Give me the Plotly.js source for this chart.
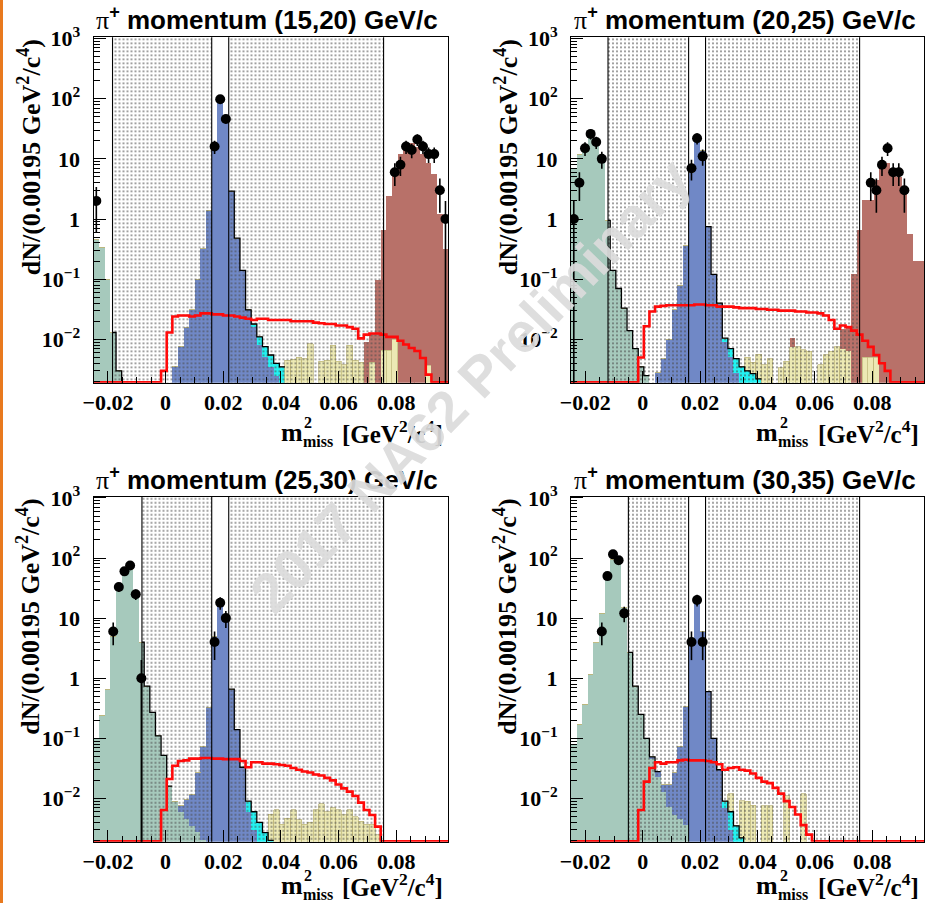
<!DOCTYPE html>
<html><head><meta charset="utf-8">
<script src="https://cdn.plot.ly/plotly-3.0.1.min.js"></script>
<style>html,body{margin:0;padding:0;background:#fff;}#plot{width:925px;height:903px;}</style>
</head><body><div id="plot"></div>
<script>
// ---------------- data ----------------
// histogram binning: 0.00195 GeV^2 bins starting at -0.025
const BIN_LO = -0.025, BIN_W = 0.125/64, NBINS = 63;
// each series: [index of first bin, values...]
const P1_GREEN  = [0, [0.45,0.34,0.10,0.013,0.003]];
const P1_BLUE   = [14,[0.0035,0.0075,0.016,0.031,0.10,0.32,1.4,16,85,50,2.9,0.48,0.14,0.031,0.016,0.008,0.005,0.0035,0.0025,0.0012]];
const P1_CYAN   = [28,[0.002,0.003,0.0026,0.002,0.0015,0.0023]];
const P1_YELLOW = [34,[0.0045,0.0047,0.005,0.0048,0.0085,0,0.0043,0.0045,0.008,0.0043,0.0038,0.008,0.0045,0.0042,0,0.0042,0,0.0066,0.0066,0.01,0,0,0,0,0,0.0037]];
const P1_BROWN  = [48,[0.009,0.008,0.097,0.65,2.4,6.5,12,16,18,16,12,8.4,5.5,1.2,0.32]];
const P1_RED    = [12,[0.003,0.013,0.024,0.025,0.025,0.024,0.025,0.027,0.027,0.026,0.026,0.025,0.025,0.024,0.023,0.022,0.021,0.022,0.022,0.021,0.021,0.021,0.021,0.020,0.020,0.020,0.020,0.019,0.0185,0.018,0.018,0.017,0.017,0.016,0.015,0.0104,0.012,0.0125,0.0125,0.012,0.011,0.011,0.0095,0.0082,0.0072,0.0064,0.0049,0.0026]];
const P1_DATA_BINS   = [0,21,22,23,53,54,55,56,57,58,59,60,61,62];
const P1_DATA_COUNTS = [2,16,98,46,6,8,16,14,21,16,12,12,3,1];

const P2_GREEN  = [0, [7,12,17,26,22,10,0.95,0.14,0.07,0.033,0.014,0.007,0.0035,0.0025]];
const P2_BLUE   = [15,[0.0028,0.0048,0.01,0.031,0.08,0.36,6,20,14,0.75,0.12,0.04,0.009,0.005,0.0028,0.0015,0.001,0.0005]];
const P2_CYAN   = [27,[0.0015,0.002,0.002,0.002,0.002,0.0022,0.0022]];
const P2_YELLOW = [31,[0.002,0.0015,0.0035,0.0038,0.0048,0,0.0034,0.0043,0.0075,0.0075,0.0067,0.0063,0,0.0038,0.0056,0.0063,0.0075,0.007,0.0065,0,0,0.005,0.005,0.005]];
const P2_BROWN  = [39,[0.003,0,0,0,0,0,0,0,0,0.008,0.009,0.12,0.65,2.1,2.1,4.5,7.9,8.4,7,5,2.8,0.57,0.2,0.2]];
const P2_RED    = [12,[0.005,0.0165,0.029,0.035,0.036,0.037,0.037,0.037,0.037,0.037,0.038,0.038,0.037,0.037,0.035,0.035,0.035,0.034,0.033,0.033,0.033,0.032,0.032,0.031,0.031,0.030,0.030,0.030,0.029,0.029,0.028,0.028,0.027,0.025,0.021,0.015,0.017,0.016,0.014,0.012,0.0095,0.0075,0.0055,0.004,0.003]];
const P2_DATA_BINS   = [0,1,2,3,4,5,21,22,23,53,54,55,56,57,58,59];
const P2_DATA_COUNTS = [1,4,15,26,19,10,7,22,11,4,3,8,15,6,6,3];

const P3_GREEN  = [0, [0.1,0.24,0.65,5,30,60,65,25,4,0.74,0.27,0.11,0.052,0.016,0.009,0.006,0.0045,0.0035,0.0028,0.002]];
const P3_BLUE   = [15,[0.0015,0.005,0.008,0.024,0.07,0.33,5,17,9,0.66,0.14,0.033,0.006,0.003,0.0015,0.0005]];
const P3_CYAN   = [27,[0.003,0.003,0.0025,0.0022,0.002]];
const P3_YELLOW = [31,[0.0035,0.0065,0.0037,0.0047,0.0065,0.0044,0.0037,0.004,0.0065,0.0082,0.006,0.007,0.0065,0.0054,0.0065,0.005,0.0042,0.0037,0.0037,0.0025]];
const P3_BROWN  = [0, []];
const P3_RED    = [12,[0.0064,0.021,0.035,0.042,0.043,0.046,0.046,0.047,0.047,0.046,0.046,0.045,0.045,0.045,0.042,0.033,0.04,0.04,0.038,0.038,0.037,0.036,0.035,0.032,0.03,0.028,0.027,0.025,0.024,0.022,0.02,0.017,0.0147,0.013,0.011,0.0085,0.0064,0.0053,0.0034]];
const P3_DATA_BINS   = [3,4,5,6,7,8,21,22,23];
const P3_DATA_COUNTS = [6,33,60,75,25,1,4,18,10];

const P4_GREEN  = [0, [0.08,0.17,0.37,1.16,3.9,12,45,95,85,15,2.7,0.74,0.25,0.1,0.046,0.023,0.013,0.0073,0.0053,0.0045,0.0036]];
const P4_BLUE   = [14,[0.003,0.005,0.004,0.01,0.022,0.07,0.33,4.5,18,6,0.6,0.1,0.03,0.007,0.003,0.0015]];
const P4_CYAN   = [27,[0.002,0.003,0.002,0.0022]];
const P4_YELLOW = [28,[0.006,0,0.007,0.009,0.0077,0,0.0076,0.0076,0,0,0.011,0,0,0.012]];
const P4_BROWN  = [0, []];
const P4_RED    = [12,[0.0064,0.019,0.032,0.04,0.038,0.04,0.04,0.043,0.044,0.043,0.043,0.043,0.042,0.04,0.037,0.03,0.032,0.033,0.03,0.029,0.026,0.022,0.019,0.018,0.015,0.012,0.009,0.0072,0.0054,0.0036,0.0025]];
const P4_DATA_BINS   = [5,6,7,8,9,21,22,23];
const P4_DATA_COUNTS = [6,50,115,92,12,4,20,4];

// cut lines (m2_miss values) and the outlined (control-region) stretches
const P1_CUTS = [-0.0184, 0.0160, 0.0219, 0.0756];
const P2_CUTS = [-0.0121, 0.0160, 0.0219, 0.0756];
const P3_CUTS = [-0.0082, 0.0160, 0.0219, 0.0756];
const P4_CUTS = [-0.0050, 0.0160, 0.0219, 0.0756];
const P1_OUTLINE = [[-0.0184,-0.0152],[0.0219,0.0414]];
const P2_OUTLINE = [[-0.0121,0.0023],[0.0219,0.0414]];
const P3_OUTLINE = [[-0.0082,0.0023],[0.0219,0.0375]];
const P4_OUTLINE = [[-0.0050,0.0062],[0.0219,0.0355]];

const TITLES = ['(15,20)','(20,25)','(25,30)','(30,35)'];
const X_TICKS = [-0.02,0,0.02,0.04,0.06,0.08];
const X_TICKTEXT = ['\u22120.02','0','0.02','0.04','0.06','0.08'];
const Y_TICKS = [0.01,0.1,1,10,100,1000];
const Y_TICKTEXT = ['10<sup>\u22122</sup>','10<sup>\u22121</sup>','1','10','10<sup>2</sup>','10<sup>3</sup>'];

// ---------------- layout geometry & style ----------------
const W = 925, H = 903;
const COLS = [[93.5,448.3],[571,924]];
const ROWS = [[37.3,382.7],[496.7,841.7]];
const YMIN = -2.72, YMAX = 3.02;
const YLO = Math.pow(10,YMIN), YHI = Math.pow(10,YMAX);
const FLOOR = Math.pow(10,YMIN+0.006);
const C = {green:'#a6c9bc', blue:'#7088c6', cyan:'#22f2f2', yellow:'#ece9b4', brown:'#b87169', red:'#ff0a0a'};
const SERIF = 'Liberation Serif', SANS = 'Liberation Sans';

const panels = [
 {green:P1_GREEN,blue:P1_BLUE,cyan:P1_CYAN,yellow:P1_YELLOW,brown:P1_BROWN,red:P1_RED,db:P1_DATA_BINS,dc:P1_DATA_COUNTS,cuts:P1_CUTS,outline:P1_OUTLINE,col:0,row:0},
 {green:P2_GREEN,blue:P2_BLUE,cyan:P2_CYAN,yellow:P2_YELLOW,brown:P2_BROWN,red:P2_RED,db:P2_DATA_BINS,dc:P2_DATA_COUNTS,cuts:P2_CUTS,outline:P2_OUTLINE,col:1,row:0},
 {green:P3_GREEN,blue:P3_BLUE,cyan:P3_CYAN,yellow:P3_YELLOW,brown:P3_BROWN,red:P3_RED,db:P3_DATA_BINS,dc:P3_DATA_COUNTS,cuts:P3_CUTS,outline:P3_OUTLINE,col:0,row:1},
 {green:P4_GREEN,blue:P4_BLUE,cyan:P4_CYAN,yellow:P4_YELLOW,brown:P4_BROWN,red:P4_RED,db:P4_DATA_BINS,dc:P4_DATA_COUNTS,cuts:P4_CUTS,outline:P4_OUTLINE,col:1,row:1}
];

function expand(spec){ const a = new Array(NBINS).fill(0); spec[1].forEach((v,i)=>{ a[spec[0]+i] = v; }); return a; }
const edges = Array.from({length:NBINS+1},(_,k)=>BIN_LO+k*BIN_W);
const centers = Array.from({length:NBINS},(_,k)=>BIN_LO+(k+0.5)*BIN_W);
const px2x = p => p/W, px2y = p => 1-p/H;

const traces = [], shapes = [], annotations = [], layout = {};
const minorY = [];
for(let d=-3; d<=2; d++) for(let m=2; m<=9; m++){ const v=m*Math.pow(10,d); if(v>YLO && v<YHI) minorY.push(v); }

function tw(t,s){ const c=tw.ctx||(tw.ctx=document.createElement('canvas').getContext('2d')); c.font='bold '+s+'px "'+SERIF+'"'; return c.measureText(t).width; }
function xTitle(R, yc){
  const F=25, S=17.5, s2=16;
  const wBr = tw('[GeV',F)+tw('2',S)+tw('/c',F)+tw('4',S)+tw(']',F)+2;
  const missR = R - wBr - 8;
  const wMiss = tw('miss',s2)+2;
  const mR = missR - wMiss;
  const f = sz=>({family:SERIF, size:sz, weight:'bold', color:'#000'});
  annotations.push({xref:'paper',yref:'paper',x:px2x(R),y:px2y(yc),xanchor:'right',yanchor:'middle',showarrow:false,text:'[GeV<sup>2</sup>/c<sup>4</sup>]',font:f(F)});
  annotations.push({xref:'paper',yref:'paper',x:px2x(missR),y:px2y(yc+9),xanchor:'right',yanchor:'middle',showarrow:false,text:'miss',font:f(s2)});
  annotations.push({xref:'paper',yref:'paper',x:px2x(mR),y:px2y(yc-10),xanchor:'left',yanchor:'middle',showarrow:false,text:'2',font:f(s2)});
  annotations.push({xref:'paper',yref:'paper',x:px2x(mR+2.5),y:px2y(yc),xanchor:'right',yanchor:'middle',showarrow:false,text:'m',font:f(F+1)});
}

panels.forEach((p,i)=>{
  const sfx = i ? String(i+1) : '';
  const xa = 'x'+sfx, ya = 'y'+sfx;
  const comps = {};
  ['green','blue','cyan','yellow','brown'].forEach(key=>{
    comps[key] = expand(p[key]);
    traces.push({type:'bar', x:centers, y:comps[key], width:BIN_W*1.01, xaxis:xa, yaxis:ya,
      marker:{color:C[key], line:{width: key==='yellow'?0.7:0, color:'#bdb577'}}, hoverinfo:'skip', showlegend:false});
  });
  // dotted (blinded/control) regions
  [[p.cuts[0],p.cuts[1]],[p.cuts[2],p.cuts[3]]].forEach(([a,b])=>{
    traces.push({type:'scatter', x:[a,a,b,b,a], y:[YLO,YHI,YHI,YLO,YLO], xaxis:xa, yaxis:ya, mode:'lines',
      line:{width:0,color:'rgba(0,0,0,0)'}, fill:'toself', fillcolor:'rgba(0,0,0,0)',
      fillpattern:{shape:'.', fgcolor:'#4a4a4a', bgcolor:'rgba(0,0,0,0)', size:4, solidity:0.14},
      hoverinfo:'skip', showlegend:false});
  });
  // black outline of the stacked background in the outlined stretches
  const tot = centers.map((_,k)=>comps.green[k]+comps.blue[k]+comps.cyan[k]);
  const ox=[], oy=[];
  p.outline.forEach(([a,b])=>{
    const k0 = Math.floor((a-BIN_LO)/BIN_W), k1 = Math.ceil((b-BIN_LO)/BIN_W)-1;
    ox.push(a); oy.push(tot[k0]>0?tot[k0]:FLOOR);
    for(let k=k0+1;k<=k1;k++){ ox.push(edges[k]); oy.push(tot[k]>0?tot[k]:FLOOR); }
    ox.push(b); oy.push(tot[k1]>0?tot[k1]:FLOOR);
    ox.push(null); oy.push(null);
  });
  traces.push({type:'scatter', x:ox, y:oy, xaxis:xa, yaxis:ya, mode:'lines', line:{color:'#000', width:1.3, shape:'hv'}, connectgaps:false, hoverinfo:'skip', showlegend:false});
  // signal (red step histogram)
  const rv = expand(p.red).map(v=>v>0?v:FLOOR);
  traces.push({type:'scatter', x:edges, y:rv.concat([rv[rv.length-1]]), xaxis:xa, yaxis:ya, mode:'lines',
    line:{color:C.red, width:2.6, shape:'hv'}, hoverinfo:'skip', showlegend:false});
  // data points with Poisson errors
  traces.push({type:'scatter', mode:'markers', x:p.db.map(k=>centers[k]), y:p.dc, xaxis:xa, yaxis:ya,
    marker:{color:'#000', size:10, symbol:'circle'},
    error_y:{type:'data', array:p.dc.map(n=>Math.sqrt(n)), arrayminus:p.dc.map(n=>Math.sqrt(n)), color:'#000', thickness:1.6, width:0},
    hoverinfo:'skip', showlegend:false});
  // cut lines
  p.cuts.forEach(c=>shapes.push({type:'line', xref:xa, yref:ya+' domain', x0:c, x1:c, y0:0, y1:1, line:{color:'#000', width:1.1}}));

  const cx = COLS[p.col], ry = ROWS[p.row];
  layout['xaxis'+sfx] = {domain:[px2x(cx[0]),px2x(cx[1])], anchor:ya, range:[BIN_LO, BIN_LO+NBINS*BIN_W],
    showgrid:false, zeroline:false, showline:true, mirror:true, linecolor:'#000', linewidth:1,
    ticks:'inside', ticklen:12, tickwidth:1, tickcolor:'#000', tickmode:'array', tickvals:X_TICKS, ticktext:X_TICKTEXT,
    tickfont:{family:SERIF, size:22, weight:'bold', color:'#000'}, ticklabelstandoff:0,
    minor:{ticks:'inside', ticklen:6, tickwidth:1, tickcolor:'#000', dtick:0.005, tick0:0, showgrid:false}};
  layout['yaxis'+sfx] = {domain:[px2y(ry[1]),px2y(ry[0])], anchor:xa, type:'log', range:[YMIN,YMAX],
    showgrid:false, zeroline:false, showline:true, mirror:true, linecolor:'#000', linewidth:1,
    ticks:'inside', ticklen:12, tickwidth:1, tickcolor:'#000', tickmode:'array', tickvals:Y_TICKS, ticktext:Y_TICKTEXT,
    tickfont:{family:SERIF, size:22, weight:'bold', color:'#000'}, ticklabelstandoff:8,
    minor:{ticks:'inside', ticklen:6, tickwidth:1, tickcolor:'#000', tickmode:'array', tickvals:minorY, showgrid:false}};

  // panel title
  annotations.push({xref:'paper', yref:'paper', x:px2x(cx[0]+0.5), y:px2y(p.row?479:19), xanchor:'left', yanchor:'middle', showarrow:false,
    text:'<span style="font-family:Liberation Serif;font-weight:normal">\u03c0</span><sup>+</sup> momentum '+TITLES[i]+' GeV/c',
    font:{family:SANS, size:26, weight:'bold', color:'#000'}});
  // y title
  annotations.push({xref:'paper', yref:'paper', x:px2x(p.col?506:29), y:px2y(ry[0]), xanchor:'center', yanchor:'top', showarrow:false, textangle:-90,
    text:'dN/(0.00195 GeV<sup>2</sup>/c<sup>4</sup>)', font:{family:SERIF, size:26, weight:'bold', color:'#000'}});
  // x title (m^2_miss with stacked indices)
  xTitle(cx[1]-3, p.row?885:432);
});

// watermark
annotations.push({xref:'paper', yref:'paper', x:px2x(470), y:px2y(385), xanchor:'center', yanchor:'middle', showarrow:false, textangle:-46,
  text:'2017 NA62 Preliminary', font:{family:SANS, size:56, weight:'bold', color:'#dcdcdc'}, opacity:0.92});
// orange slide border on the left
shapes.push({type:'rect', xref:'paper', yref:'paper', x0:0, x1:px2x(3), y0:0, y1:1, fillcolor:'#e8791e', line:{width:0}, layer:'above'});

Object.assign(layout, {width:W, height:H, margin:{l:0,r:0,t:0,b:0}, barmode:'stack', bargap:0,
  paper_bgcolor:'#fff', plot_bgcolor:'#fff', showlegend:false, shapes, annotations, font:{family:SERIF}});

Plotly.newPlot('plot', traces, layout, {displayModeBar:false, staticPlot:true});
</script></body></html>
